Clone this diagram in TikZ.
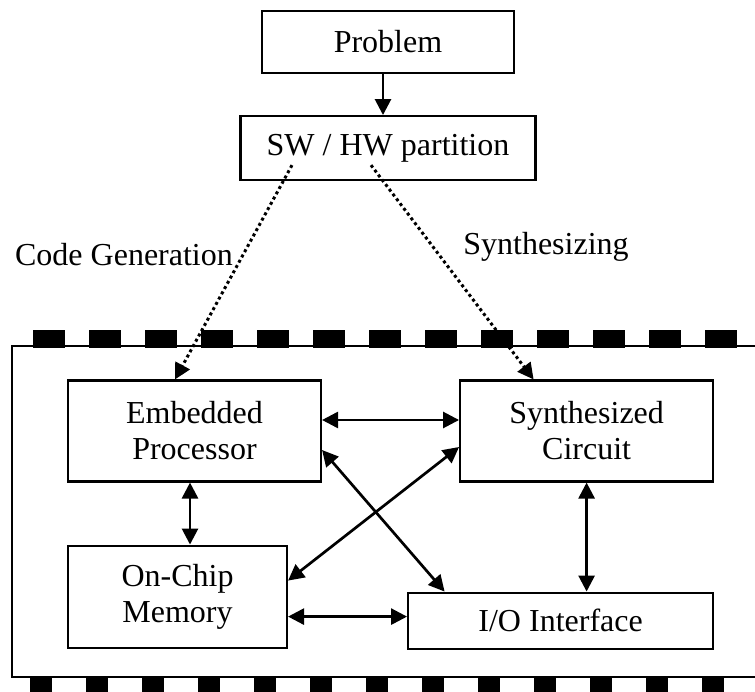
\documentclass[tikz,border=0pt]{standalone}
\usepackage{fontspec}
\setmainfont{Liberation Serif}
\usetikzlibrary{arrows.meta, positioning}

\begin{document}
\begin{tikzpicture}[x=1pt, y=-1pt, line width=2pt,
        main/.style = {draw, rectangle, line width=2.1pt, inner sep=0pt, align=center, font=\fontsize{32}{36}\selectfont},
        lbl/.style = {font=\fontsize{32}{36}\selectfont, inner sep=0pt},
        arr/.style = {line width=2.7pt, -{Triangle[length=16pt,width=16pt]}},
        both/.style = {line width=2.7pt, {Triangle[length=16pt,width=16pt]}-{Triangle[length=16pt,width=16pt]}},
        dots/.style = {line width=3pt, dash pattern=on 3pt off 3pt, -{Triangle[length=16pt,width=16pt]}} ]
        \useasboundingbox (0,0) rectangle (755,692);

        \node[main, minimum width=252pt, minimum height=62pt] (prob) at (388,42) {Problem};
        \node[main, minimum width=295pt, minimum height=64pt] (part) [below=41pt of prob] {SW / HW partition};
        \node[main, minimum width=253pt, minimum height=101pt] (emb) at (194.5,431) {Embedded\\Processor};
        \node[main, minimum width=253pt, minimum height=101pt] (syn) [right=137pt of emb] {Synthesized\\Circuit};
        \node[main, minimum width=219pt, minimum height=102pt] (mem) [below=62pt of emb.south west, anchor=north west] {On-Chip\\Memory};
        \node[main, minimum width=305pt, minimum height=56pt] (io) [below=109pt of syn.south east, anchor=north east] {I/O Interface};

        \node[lbl] (codegen) at (124,255) {Code Generation};
        \node[lbl] (synth) at (546,247) {Synthesizing};

        % chip border
        \draw[line width=2pt] (780,346) -- (12,346) -- (12,677) -- (780,677);
        \draw[line width=18pt, dash pattern=on 32pt off 24pt] (33,339) -- (790,339);
        \draw[line width=20pt, dash pattern=on 22pt off 34pt] (30,687) -- (790,687);

        \draw[arr] ([xshift=-5pt]prob.south) -- ([xshift=-5pt]part.north);
        \draw[dots] ([xshift=-96pt,yshift=16pt]part.south) -- ([xshift=-19.5pt]emb.north);
        \draw[dots] ([xshift=-17pt,yshift=16pt]part.south) -- ([xshift=-53pt]syn.north);

        \draw[both] ([yshift=11pt]emb.east) -- ([yshift=11pt]syn.west);
        \draw[both] ([yshift=-19pt]emb.east) -- ([xshift=-116pt]io.north);
        \draw[both] ([yshift=-16pt]syn.west) -- ([yshift=16pt]mem.east);
        \draw[both] ([xshift=-4.5pt]emb.south) -- ([xshift=-4.5pt]emb.south |- mem.north);
        \draw[both] (syn.south) -- (syn.south |- io.north);
        \draw[both] ([yshift=-20pt]mem.east) -- ([yshift=-20pt]mem.east -| io.west);

    \end{tikzpicture}
\end{document}
